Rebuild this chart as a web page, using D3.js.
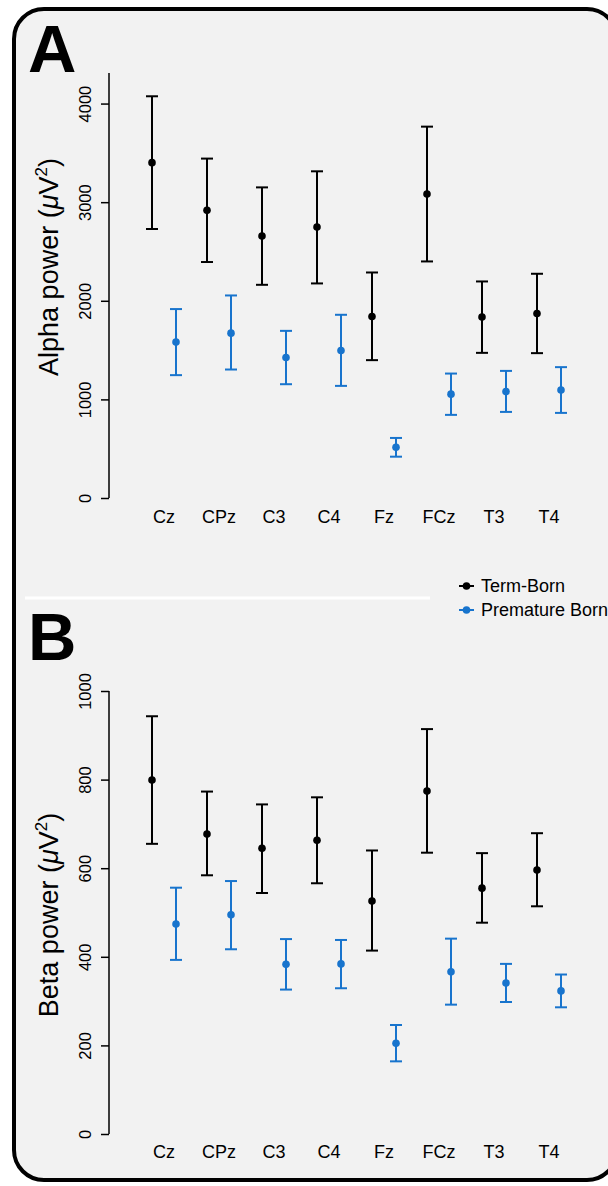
<!DOCTYPE html>
<html>
<head>
<meta charset="utf-8">
<script src="https://cdn.jsdelivr.net/npm/d3@7"></script>
<style>
  html, body { margin: 0; padding: 0; background: #ffffff; }
  svg { display: block; font-family: "Liberation Sans", Arial, Helvetica, sans-serif; }
</style>
</head>
<body>
<svg id="chart" width="608" height="1186"></svg>
<script>
// Electrode sites shown on the x axis
const categories = ["Cz", "CPz", "C3", "C4", "Fz", "FCz", "T3", "T4"];

// Alpha power (µV²): mean with lower / upper error-bar limits
const alphaTermMean = [3401, 2917, 2657, 2748, 1841, 3083, 1835, 1871];
const alphaTermLow  = [2728, 2393, 2162, 2176, 1398, 2399, 1472, 1469];
const alphaTermHigh = [4074, 3442, 3150, 3313, 2287, 3766, 2196, 2274];
const alphaPreMean  = [1581, 1672, 1425, 1496, 515, 1053, 1079, 1096];
const alphaPreLow   = [1246, 1303, 1154, 1137, 419, 843, 873, 863];
const alphaPreHigh  = [1916, 2054, 1695, 1858, 609, 1262, 1289, 1327];

// Beta power (µV²): mean with lower / upper error-bar limits
const betaTermMean = [799, 677, 645, 663, 526, 774, 555, 596];
const betaTermLow  = [655, 584, 544, 566, 414, 635, 477, 514];
const betaTermHigh = [943, 773, 744, 760, 640, 914, 634, 679];
const betaPreMean  = [474, 495, 383, 384, 205, 366, 341, 323];
const betaPreLow   = [393, 417, 326, 329, 164, 292, 298, 286];
const betaPreHigh  = [556, 571, 440, 438, 246, 441, 384, 360];

// Tick values
const alphaTicks = [0, 1000, 2000, 3000, 4000];
const betaTicks  = [0, 200, 400, 600, 800, 1000];

// Group names
const groups = ["Term-Born", "Premature Born"];

const TERM = "#000000";
const PRE = "#1874cd";

const svg = d3.select("#chart");

// Rounded panel frame
svg.append("rect")
  .attr("x", 14).attr("y", 9)
  .attr("width", 603).attr("height", 1171)
  .attr("rx", 30).attr("ry", 30)
  .attr("fill", "#f2f2f2")
  .attr("stroke", "#000").attr("stroke-width", 4);

// White divider between the two panels
svg.append("line")
  .attr("x1", 25).attr("x2", 430)
  .attr("y1", 598).attr("y2", 598)
  .attr("stroke", "#ffffff").attr("stroke-width", 3);

const x = d3.scalePoint().domain(categories).range([164, 549]);
const offset = 12;
const axisX = 109;

function drawPanel(cfg) {
  const g = svg.append("g");
  const y = d3.scaleLinear().domain(cfg.domain).range(cfg.range);

  // panel letter
  g.append("text")
    .attr("x", 28).attr("y", cfg.letterY)
    .attr("font-size", 67).attr("font-weight", "bold")
    .attr("fill", "#000")
    .text(cfg.letter);

  // y axis
  const ax = g.append("g")
    .attr("transform", `translate(${axisX},0)`)
    .call(d3.axisLeft(y).tickValues(cfg.ticks).tickSize(8).tickSizeOuter(0).tickFormat(d3.format("d")));
  ax.select(".domain").remove();
  ax.selectAll(".tick line").attr("stroke", "#000").attr("stroke-width", 1.5);
  ax.selectAll(".tick text")
    .attr("transform", "rotate(-90)")
    .attr("x", 0).attr("y", -18.5).attr("dy", 0)
    .attr("text-anchor", "middle")
    .attr("font-size", 16.5)
    .attr("fill", "#000");
  ax.append("line")
    .attr("x1", 0).attr("x2", 0)
    .attr("y1", y(cfg.domain[0])).attr("y2", y(cfg.domain[1]))
    .attr("stroke", "#000").attr("stroke-width", 1.5);

  // y axis title
  const t = g.append("text")
    .attr("transform", `translate(57.5,${cfg.titleY}) rotate(-90)`)
    .attr("text-anchor", "middle")
    .attr("font-size", 27)
    .attr("fill", "#000");
  t.append("tspan").text(cfg.title + " power (");
  t.append("tspan").attr("font-style", "italic").text("\u03bc");
  t.append("tspan").text("V");
  t.append("tspan").attr("font-size", 17).attr("dy", -11).text("2");
  t.append("tspan").attr("dy", 11).text(")");

  // x labels
  g.selectAll("text.xl").data(categories).join("text")
    .attr("class", "xl")
    .attr("x", d => x(d)).attr("y", cfg.labelY)
    .attr("text-anchor", "middle")
    .attr("font-size", 18)
    .attr("fill", "#000")
    .text(d => d);

  // error bars for each group
  const series = [
    { mean: cfg.termMean, low: cfg.termLow, high: cfg.termHigh, dx: -offset, color: TERM },
    { mean: cfg.preMean, low: cfg.preLow, high: cfg.preHigh, dx: offset, color: PRE }
  ];
  series.forEach(s => {
    const rows = categories.map((c, i) => ({ c, m: s.mean[i], lo: s.low[i], hi: s.high[i] }));
    const sg = g.append("g").attr("stroke", s.color).attr("fill", s.color);
    const item = sg.selectAll("g").data(rows).join("g")
      .attr("transform", d => `translate(${x(d.c) + s.dx},0)`);
    item.append("line")
      .attr("y1", d => y(d.lo)).attr("y2", d => y(d.hi))
      .attr("stroke-width", 2);
    item.append("line")
      .attr("x1", -6).attr("x2", 6)
      .attr("y1", d => y(d.hi)).attr("y2", d => y(d.hi))
      .attr("stroke-width", 2);
    item.append("line")
      .attr("x1", -6).attr("x2", 6)
      .attr("y1", d => y(d.lo)).attr("y2", d => y(d.lo))
      .attr("stroke-width", 2);
    item.append("circle")
      .attr("cy", d => y(d.m)).attr("r", 3.8)
      .attr("stroke", "none");
  });
}

drawPanel({
  letter: "A", letterY: 72,
  domain: [0, 4310], range: [498, 73],
  ticks: alphaTicks, title: "Alpha", titleY: 267, labelY: 523,
  termMean: alphaTermMean, termLow: alphaTermLow, termHigh: alphaTermHigh,
  preMean: alphaPreMean, preLow: alphaPreLow, preHigh: alphaPreHigh
});

drawPanel({
  letter: "B", letterY: 660,
  domain: [0, 1000], range: [1134, 691],
  ticks: betaTicks, title: "Beta", titleY: 915, labelY: 1158,
  termMean: betaTermMean, termLow: betaTermLow, termHigh: betaTermHigh,
  preMean: betaPreMean, preLow: betaPreLow, preHigh: betaPreHigh
});

// legend
const legend = svg.append("g");
const legendColors = [TERM, PRE];
groups.forEach((name, i) => {
  const ly = 586 + i * 24;
  legend.append("line")
    .attr("x1", 459).attr("x2", 474).attr("y1", ly).attr("y2", ly)
    .attr("stroke", legendColors[i]).attr("stroke-width", 2);
  legend.append("circle")
    .attr("cx", 466.5).attr("cy", ly).attr("r", 3.8)
    .attr("fill", legendColors[i]);
  legend.append("text")
    .attr("x", 481).attr("y", ly + 6)
    .attr("font-size", 18).attr("fill", "#000")
    .text(name);
});
</script>
</body>
</html>
